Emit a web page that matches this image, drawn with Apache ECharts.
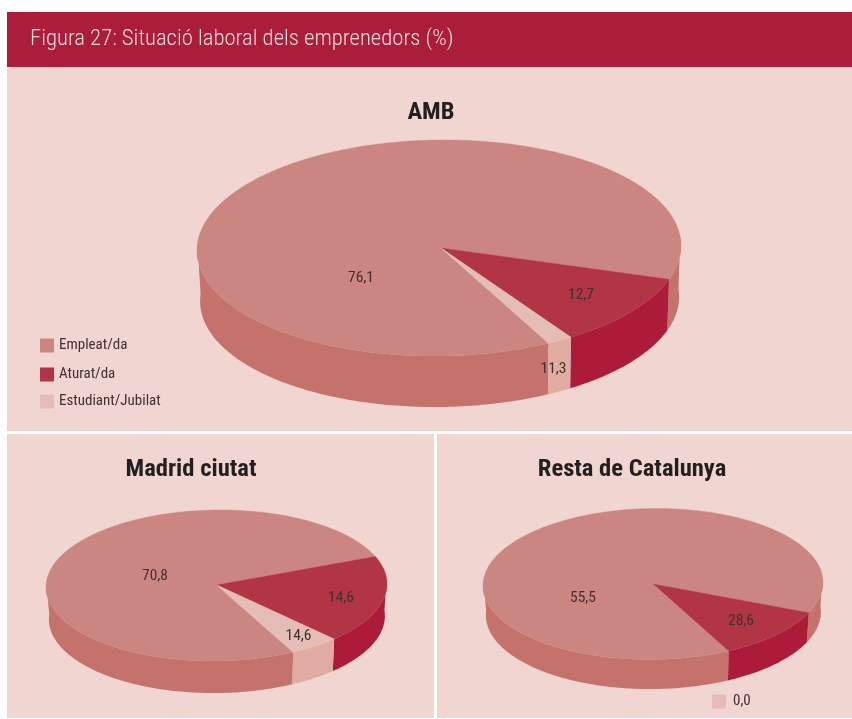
<!DOCTYPE html>
<html>
<head>
<meta charset="utf-8">
<script src="https://cdn.jsdelivr.net/npm/echarts@6/dist/echarts.min.js"></script>
<style>html,body{margin:0;padding:0;background:#fff}#c{width:852px;height:719px}</style>
</head>
<body>
<div id="c"></div>
<script>
// ---- data ----
const chartTitle = 'Figura 27: Situació laboral dels emprenedors (%)';
const pieNames = ['AMB', 'Madrid ciutat', 'Resta de Catalunya'];
const categories = ['Empleat/da', 'Aturat/da', 'Estudiant/Jubilat'];
const zeroEntry = '0,0';
// Values printed on the picture
const printedAMB = [76.1, 12.7, 11.3];
const printedMadrid = [70.8, 14.6, 14.6];
const printedResta = [55.5, 28.6, 0.0];
// Share of the full circle that each slice really occupies in the picture
// (the source artwork does not draw its slices to the printed values)
const drawnAMB = [87.5, 10.8, 1.7];
const drawnMadrid = [76.5, 18.8, 4.7];
const drawnResta = [88.9, 11.1, 0];

// ---- layout and style ----
const printed = [printedAMB, printedMadrid, printedResta];
const drawn = [drawnAMB, drawnMadrid, drawnResta];
const FONT = '"Roboto Condensed", "Open Sans", sans-serif';
const TILT = 0.012;
const geom = [
  {cx: 439, cy: 248, rx: 242, ry: 108, h: 51, start: 18.4, apex: [441, 248],
   labels: [[361, 278.5], [581, 295.5], [553.5, 369.5]]},
  {cx: 216.5, cy: 585.5, rx: 170.5, ry: 75.5, h: 32, start: -21, apex: [216.7, 585],
   labels: [[155, 576.5], [341, 598.5], [298.5, 636.5]]},
  {cx: 653, cy: 584, rx: 170, ry: 75.5, h: 29.5, start: 23.9, apex: [653.3, 584],
   labels: [[583, 598.5], [741, 621.5], null]}
];
const topColors = ['#CC8681', '#B13545', '#E5BDB7'];
const wallColors = ['#C4726B', '#AC1C3A', '#E0ABA3'];
const drawOrder = [1, 2, 0]; // clockwise from geom.start
const legendTops = [338, 367, 394];

function span(pie, cat) {
  let a = geom[pie].start;
  for (const c of drawOrder) {
    const sweep = drawn[pie][c] * 3.6;
    if (c === cat) return [a, a + sweep];
    a += sweep;
  }
}
function sliceRender(cat) {
  return function (params, api) {
    const pie = api.value(0);
    const g = geom[pie];
    const s = span(pie, cat);
    const children = [];
    const rad = d => d * Math.PI / 180;
    const tilted = (dx, dy) => [g.cx + dx + TILT * dy, g.cy + dy - TILT * dx];
    const topPt = d => tilted(g.rx * Math.cos(rad(d)), g.ry * Math.sin(rad(d)));
    const botPt = d => tilted((g.rx - 2.5) * Math.cos(rad(d)), g.h + g.ry * Math.sin(rad(d)));
    if (s[1] > s[0]) {
      // side walls: only the part of the rim facing the viewer
      [[-4, 184], [356, 544]].forEach(w => {
        const t0 = Math.max(s[0], w[0]), t1 = Math.min(s[1], w[1]);
        if (t1 <= t0) return;
        const pts = [];
        for (let d = t0; d < t1; d += 1) pts.push(topPt(d));
        pts.push(topPt(t1));
        pts.push(botPt(t1));
        for (let d = t1; d > t0; d -= 1) pts.push(botPt(d));
        pts.push(botPt(t0));
        children.push({type: 'polygon', z2: 1, shape: {points: pts},
          style: {fill: wallColors[cat]}});
      });
      // top face
      const pts = [g.apex];
      for (let d = s[0]; d < s[1]; d += 1) pts.push(topPt(d));
      pts.push(topPt(s[1]));
      children.push({type: 'polygon', z2: 2, shape: {points: pts},
        style: {fill: topColors[cat], stroke: topColors[cat], lineWidth: 0.4}});
      // printed value
      const lab = g.labels[cat];
      if (lab) {
        children.push({type: 'text', z2: 10, x: lab[0], y: lab[1],
          style: {text: printed[pie][cat].toFixed(1).replace('.', ','),
            x: 0, y: 0, align: 'center', verticalAlign: 'middle',
            fill: '#40302f', font: '400 15.5px ' + FONT}});
      }
    }
    return {type: 'group', children};
  };
}
function sliceSeries(name, cat, pies) {
  return {
    type: 'custom', name, coordinateSystem: 'none', silent: true,
    itemStyle: {color: topColors[cat]},
    renderItem: sliceRender(cat),
    data: pies.map(p => [p, drawn[p][cat]])
  };
}

const panel = (x, y, w, h, fill) => ({type: 'rect', z: 0, silent: true,
  shape: {x, y, width: w, height: h}, style: {fill}});
const legendText = {color: '#40302f', fontFamily: FONT, fontWeight: 400, fontSize: 15};
const panelTitle = (text, left, top) => ({text, left, top, padding: 0, textAlign: 'center',
  textStyle: {color: '#231F20', fontFamily: FONT, fontWeight: 'bold', fontSize: 24.6}});

const option = {
  animation: false,
  backgroundColor: '#fff',
  graphic: {elements: [
    panel(7, 12, 845, 55, '#AB1D3A'),
    panel(7, 67, 845, 364, '#F0D5D0'),
    panel(7, 434, 427, 284, '#F0D5D0'),
    panel(437, 434, 415, 284, '#F0D5D0')
  ]},
  title: [
    {text: chartTitle, left: 30, top: 28, padding: 0,
     textStyle: {color: '#F3DCD9', fontFamily: FONT, fontWeight: 300, fontSize: 22.7}},
    panelTitle(pieNames[0], 431, 100),
    panelTitle(pieNames[1], 191, 457),
    panelTitle(pieNames[2], 632, 457)
  ],
  legend: categories.map((n, i) => ({
    left: 40, top: legendTops[i], padding: 0,
    itemWidth: 14, itemHeight: 14, icon: 'rect', selectedMode: false, textStyle: legendText,
    data: [{name: n, itemStyle: {color: topColors[i]}}]
  })).concat([
    {left: 712, top: 694, padding: 0,
     itemWidth: 14, itemHeight: 14, icon: 'rect', selectedMode: false,
     textStyle: Object.assign({}, legendText, {padding: [0, 0, 0, 2]}),
     data: [{name: zeroEntry, itemStyle: {color: topColors[2]}}]}
  ]),
  series: [
    sliceSeries(categories[0], 0, [0, 1, 2]),
    sliceSeries(categories[1], 1, [0, 1, 2]),
    sliceSeries(categories[2], 2, [0, 1]),
    sliceSeries(zeroEntry, 2, [2])
  ]
};
echarts.init(document.getElementById('c'), null, {renderer: 'canvas'}).setOption(option);
</script>
</body>
</html>
